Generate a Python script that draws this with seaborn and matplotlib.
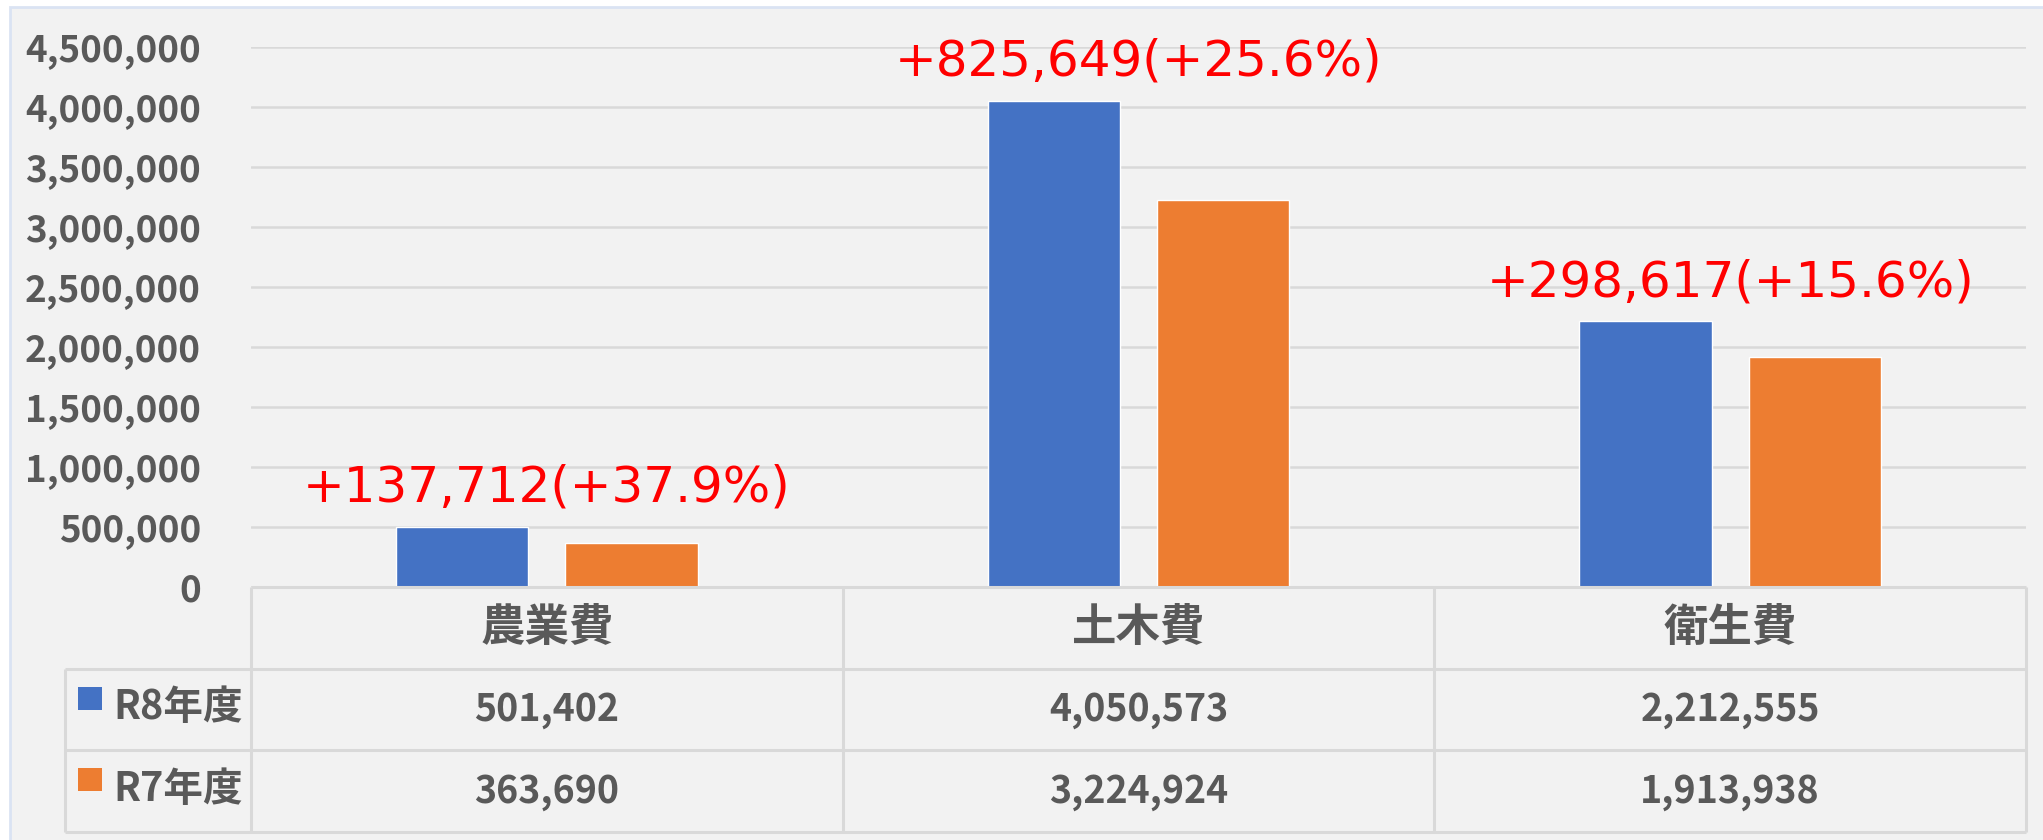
import numpy as np
import pandas as pd
import seaborn as sns
import matplotlib.pyplot as plt
from matplotlib.patches import Rectangle

categories = ["農業費", "土木費", "衛生費"]
years = ["R8年度", "R7年度"]
r8_values = [501402, 4050573, 2212555]
r7_values = [363690, 3224924, 1913938]
colors = ["#4472C4", "#ED7D31"]
y_ticks = np.arange(0, 4500001, 500000)

df = pd.DataFrame({
    "category": categories * 2,
    "year": [years[0]] * 3 + [years[1]] * 3,
    "value": r8_values + r7_values,
})

sns.set_theme(style="white")
plt.rcParams["font.family"] = ["Noto Sans CJK JP", "DejaVu Sans"]

gray = "#595959"
line_gray = "#D9D9D9"

# figure layout in pixels
W, H = 2043, 840
left, right, top, zero = 251, 2026, 47, 587
tab_left, tab_bottom = 65, 832

fig = plt.figure(figsize=(W / 100, H / 100), dpi=100, facecolor="white")
fig.add_artist(Rectangle((10 / W, -0.01), 1.0, 1 - 7 / H + 0.01, transform=fig.transFigure,
                         facecolor="#F2F2F2", edgecolor="#DAE3F3", lw=2, zorder=-10))

ax = fig.add_axes([left / W, 1 - zero / H, (right - left) / W, (zero - top) / H])
ax.set_facecolor("none")
sns.barplot(data=df, x="category", y="value", hue="year", hue_order=years,
            palette=colors, saturation=1, width=0.572, gap=0.217,
            errorbar=None, legend=False, ax=ax)

ax.set_xlim(-0.5, 2.5)
ax.set_ylim(0, y_ticks[-1])
ax.set_yticks(y_ticks, labels=[f"{v:,}" for v in y_ticks],
              fontsize=26.5, fontweight="bold", color=gray)
ax.set_xticks([])
ax.set_xlabel("")
ax.set_ylabel("")
ax.tick_params(axis="y", length=0, pad=36)
ax.grid(axis="y", color=line_gray, lw=1.8)
ax.set_axisbelow(True)
for s in ax.spines.values():
    s.set_visible(False)

# change labels above each group
for i, (a, b) in enumerate(zip(r8_values, r7_values)):
    diff = a - b
    pct = diff / b * 100
    ax.annotate(f"+{diff:,}(+{pct:.1f}%)", xy=(i, max(a, b)), xytext=(0, 18),
                textcoords="offset points", ha="center", va="baseline",
                color="#FF0000", fontsize=36, family="DejaVu Sans",
                annotation_clip=False)

# data table under the chart
tab = fig.add_axes([tab_left / W, 1 - tab_bottom / H, (right - tab_left) / W, (tab_bottom - zero) / H])
px = 3 / (right - left)
x0 = -0.5 - (left - tab_left) * px
tab.set_xlim(x0, 2.5)
tab.set_ylim(3, 0)
tab.axis("off")
kw = dict(color=line_gray, lw=2.2, clip_on=False)
tab.hlines(0, -0.5, 2.5, **kw)
tab.hlines([1, 2, 3], x0, 2.5, **kw)
tab.vlines([-0.5, 0.5, 1.5, 2.5], 0, 3, **kw)
tab.vlines(x0, 1, 3, **kw)

for i, cat in enumerate(categories):
    tab.text(i, 0.5, cat, ha="center", va="center", fontsize=32, fontweight="bold", color=gray)

row_h = (tab_bottom - zero) / 3
for r, (name, vals, c) in enumerate(zip(years, [r8_values, r7_values], colors), start=1):
    tab.add_patch(Rectangle((x0 + 13 * px, r + 18 / row_h), 24 * px, 23 / row_h,
                            facecolor=c, edgecolor="none"))
    tab.text(x0 + 48 * px, r + 0.48, name, ha="left", va="center",
             fontsize=28.5, fontweight="bold", color=gray)
    for i, v in enumerate(vals):
        tab.text(i, r + 0.5, f"{v:,}", ha="center", va="center",
                 fontsize=27, fontweight="bold", color=gray)

fig.savefig("out.png", dpi=100, facecolor=fig.get_facecolor())
